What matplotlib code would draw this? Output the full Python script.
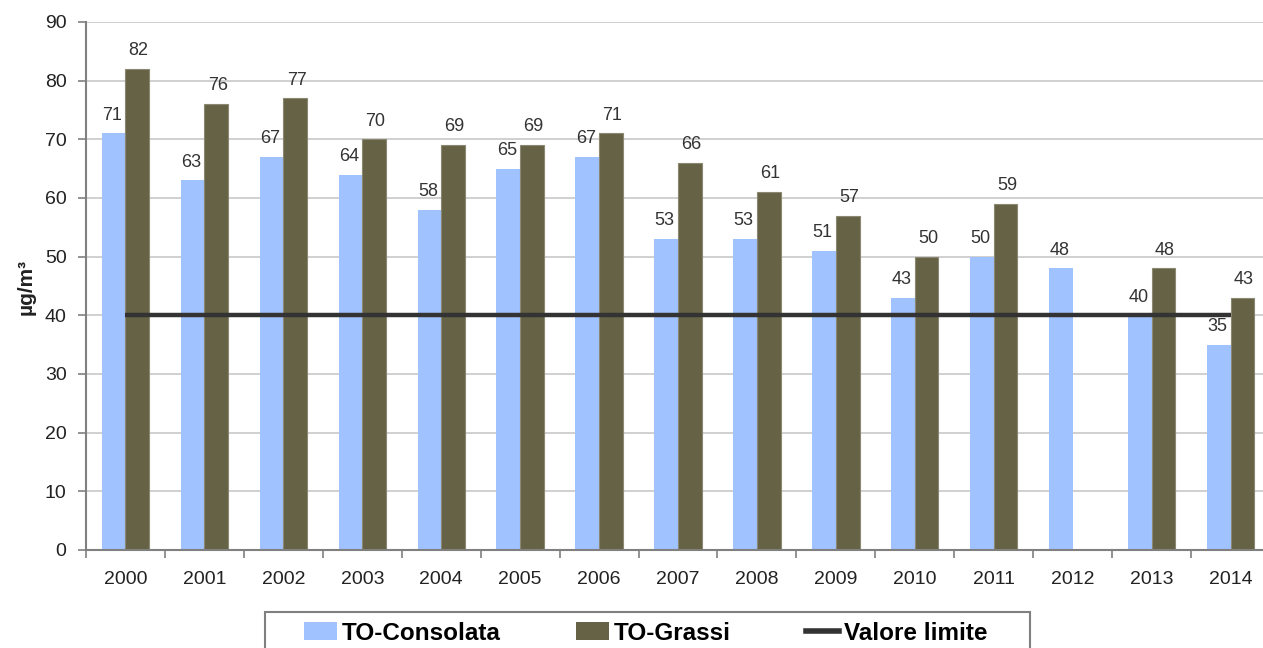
import numpy as np
import matplotlib
matplotlib.use("Agg")
import matplotlib.pyplot as plt
from matplotlib.patches import Rectangle, Patch
from matplotlib.lines import Line2D
from matplotlib.ticker import FixedLocator

plt.rcParams['font.family'] = ['Liberation Sans', 'DejaVu Sans']

years = ['2000', '2001', '2002', '2003', '2004', '2005', '2006', '2007',
         '2008', '2009', '2010', '2011', '2012', '2013', '2014']
consolata = [71, 63, 67, 64, 58, 65, 67, 53, 53, 51, 43, 50, 48, 40, 35]
grassi = [82, 76, 77, 70, 69, 69, 71, 66, 61, 57, 50, 59, np.nan, 48, 43]
limit_value = 40
yticks = list(range(0, 91, 10))

col_cons = '#A0C2FF'
col_grassi = '#666245'
col_limit = '#333333'
text_col = '#222222'
label_col = '#333333'

W, H = 1263, 648
fig = plt.figure(figsize=(W / 100, H / 100), dpi=100)
ax = fig.add_axes([86 / W, 1 - 550 / H, (1270 - 86) / W, (550 - 22) / H])

x = np.arange(len(years))
bw = 0.30
ax.bar(x - bw / 2, consolata, width=bw, color=col_cons, zorder=3)
ax.bar(x + bw / 2, grassi, width=bw, color=col_grassi, edgecolor='#8a8772',
       linewidth=0.8, zorder=3)
ax.plot(x, [limit_value] * len(x), color=col_limit, lw=3.2, zorder=4,
        solid_capstyle='butt')

for xi, v in zip(x, consolata):
    if not np.isnan(v):
        ax.annotate(f'{v:g}', (xi - bw / 2, v), xytext=(-1, 7),
                    textcoords='offset points', ha='center', va='bottom',
                    fontsize=13, color=label_col, zorder=5)
for xi, v in zip(x, grassi):
    if not np.isnan(v):
        ax.annotate(f'{v:g}', (xi + bw / 2, v), xytext=(1, 7),
                    textcoords='offset points', ha='center', va='bottom',
                    fontsize=13, color=label_col, zorder=5)

ax.set_xlim(-0.5, len(years) - 0.5)
ax.set_ylim(0, 90)
ax.set_yticks(yticks)
ax.tick_params(axis='y', labelsize=14, length=6, pad=8, colors='#808080',
               labelcolor=text_col, width=1.2)
ax.set_xticks(x)
ax.set_xticklabels(years)
ax.tick_params(axis='x', which='major', length=0, pad=15, labelsize=14,
               labelcolor=text_col)
ax.xaxis.set_minor_locator(FixedLocator(np.arange(-0.5, len(years), 1.0)))
ax.tick_params(axis='x', which='minor', length=6, width=1.2, colors='#808080')

ax.yaxis.grid(True, color='#C8C8C8', lw=1.2, zorder=0)
ax.set_axisbelow(True)
for s in ['top', 'right']:
    ax.spines[s].set_visible(False)
for s in ['left', 'bottom']:
    ax.spines[s].set_color('#808080')
    ax.spines[s].set_linewidth(1.5)
    ax.spines[s].set_zorder(6)

fig.text(26 / W, 1 - 287 / H, 'µg/m³', rotation=90, ha='center', va='center',
         fontsize=15, fontweight='bold', color=text_col)

# legend box along the bottom edge
fig.patches.append(Rectangle((265 / W, -0.05), (1030 - 265) / W,
                             (1 - 612 / H) + 0.05, transform=fig.transFigure,
                             facecolor='white', edgecolor='#808080', lw=1.5))
handles = [Patch(facecolor=col_cons), Patch(facecolor=col_grassi),
           Line2D([], [], color=col_limit, lw=4)]
labels = ['TO-Consolata', 'TO-Grassi', 'Valore limite']
leg = fig.legend(handles, labels, loc='center left',
                 bbox_to_anchor=(304 / W, 1 - 633 / H), ncol=3, frameon=False,
                 prop={'weight': 'bold', 'size': 17.5},
                 handlelength=1.36, handleheight=0.75, handletextpad=0.2,
                 columnspacing=3.1, borderpad=0, borderaxespad=0)

fig.savefig('out.png', dpi=100)
